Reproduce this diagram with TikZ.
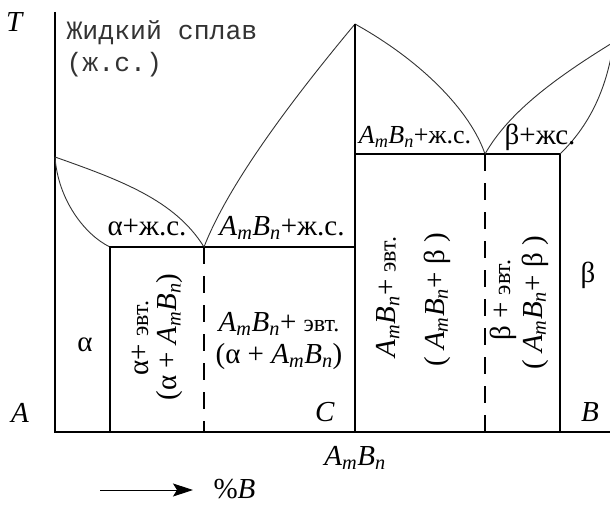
\documentclass[tikz,border=0pt]{standalone}
\usepackage{fontspec}
\setmainfont{Liberation Serif}
\setmonofont{Liberation Mono}
\usetikzlibrary{arrows.meta}
\newcommand{\AmBn}{\textit{A}\textsubscript{\textit{m}}\textit{B}\textsubscript{\textit{n}}}
\newcommand{\evt}{{\fontsize{24}{28}\selectfont эвт.}}

\begin{document}
\begin{tikzpicture}[x=1pt, y=1pt, line width=1.1pt,
  font=\fontsize{29}{28}\selectfont,
  every node/.style={inner sep=1pt},
  curve/.style={line width=0.9pt, black!80},
  eut/.style={dash pattern=on 17pt off 12pt},
  mono/.style={anchor=west, black!80, font=\ttfamily\fontsize{26.5}{30}\selectfont}]
  \useasboundingbox (-55,-72) rectangle (555,432);
  % axes
  \draw (0,420) -- (0,0) -- (555,0);
  \node (tlab) at (-40,410) {\textit{T}};
  % left part: alpha + eutectic A - AmBn
  \draw[curve] (0,275) .. controls (65,252) and (120,232) .. (149,185);
  \draw[curve] (0,275) .. controls (3,232) and (30,197) .. (55,185);
  \draw (55,0) -- (55,185) -- (300,185);
  \draw[eut] (149,185) -- (149,0);
  % the compound AmBn
  \draw[curve] (149,185) .. controls (175,252) and (245,342) .. (300,408);
  \draw[curve] (300,408) .. controls (365,372) and (415,322) .. (430,278);
  \draw (300,408) -- (300,0);
  % right part: beta + eutectic AmBn - B
  \draw (300,278) -- (505,278) -- (505,0);
  \draw[eut] (430,278) -- (430,0);
  \begin{scope}
    \clip (-55,-72) rectangle (555,432);
    \draw[curve] (430,278) .. controls (455,322) and (505,357) .. (562,392);
    \draw[curve] (505,278) .. controls (535,307) and (550,342) .. (557,380);
  \end{scope}
  % phase labels
  \node[mono] (liq) at (10,399) {Жидкий сплав};
  \node[mono] (liqs) at (10,367) {(ж.с.)};
  \node (al) at (92,204) {α+ж.с.};
  \node (cl1) at (227,204) {\AmBn+ж.с.};
  \node[font=\fontsize{26}{28}\selectfont] (cl2) at (360,295) {\AmBn+ж.с.};
  \node (bl) at (485,295) {β+жс.};
  \node (alpha) at (30,87) {α};
  \node[rotate=90] (ae1) at (85,94) {α+ \evt};
  \node[rotate=90] (ae2) at (115,95) {(α + \AmBn)};
  \node[align=center, font=\fontsize{29}{32}\selectfont] (ce) at (224,91) {\AmBn+ \evt\\(α + \AmBn)};
  \node[rotate=90] (cb1) at (333,135) {\AmBn+ \evt};
  \node[rotate=90] (cb2) at (382,132) {( \AmBn + β )};
  \node[rotate=90] (be1) at (448,132) {β + \evt};
  \node[rotate=90] (be2) at (480,129) {( \AmBn + β )};
  \node (beta) at (533,157) {β};
  % axis letters
  \node (la) at (-35,19) {\textit{A}};
  \node (lc) at (270,20) {\textit{C}};
  \node (lb) at (535,20) {\textit{B}};
  \node (comp) at (300,-26) {\AmBn};
  % direction of %B
  \coordinate (arr0) at (45,-58);
  \coordinate (arr1) at (138,-58);
  \node[anchor=west] (pb) at (157,-57) {\%\textit{B}};
  \draw[line width=0.9pt, -{Stealth[length=20pt,width=13pt,inset=4pt]}] (arr0) -- (arr1);
\end{tikzpicture}
\end{document}
